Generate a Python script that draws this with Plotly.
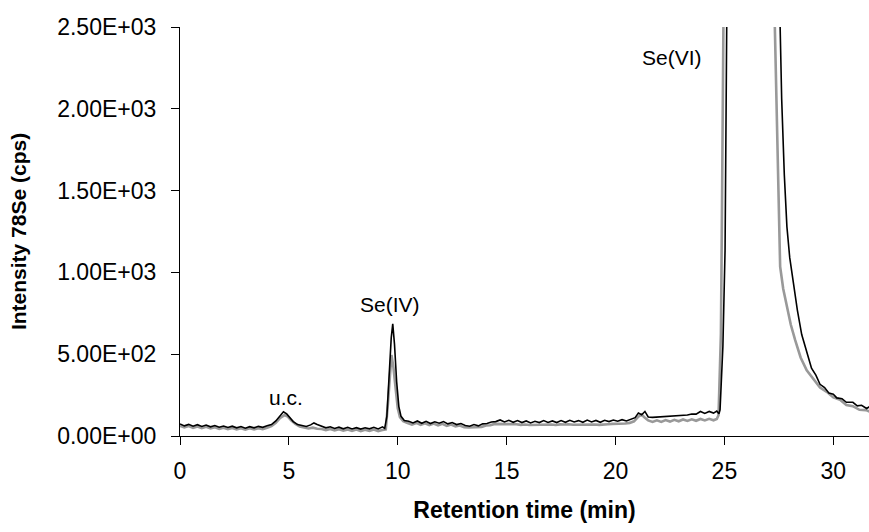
import plotly.graph_objects as go

# Black trace (sample 1)
t_black = [0.0, 0.2, 0.4, 0.6, 0.8, 1.0, 1.2, 1.4, 1.6, 1.8, 2.0, 2.2, 2.4, 2.6, 2.8, 3.0, 3.2, 3.4, 3.6, 3.8,
           4.0, 4.2, 4.4, 4.6, 4.75, 4.9, 5.05, 5.2, 5.4, 5.6, 5.8, 6.0, 6.15, 6.3, 6.5, 6.7, 6.9, 7.1, 7.3, 7.5,
           7.7, 7.9, 8.1, 8.3, 8.5, 8.7, 8.9, 9.1, 9.3, 9.4, 9.5, 9.6, 9.7, 9.77, 9.85, 9.95, 10.05, 10.15, 10.3,
           10.5, 10.7, 10.9, 11.1, 11.3, 11.5, 11.7, 11.9, 12.1, 12.3, 12.5, 12.7, 12.9, 13.1, 13.3, 13.5, 13.7,
           13.9, 14.1, 14.3, 14.5, 14.7, 14.9, 15.1, 15.3, 15.5, 15.7, 15.9, 16.1, 16.3, 16.5, 16.7, 16.9, 17.1,
           17.3, 17.5, 17.7, 17.9, 18.1, 18.3, 18.5, 18.7, 18.9, 19.1, 19.3, 19.5, 19.7, 19.9, 20.1, 20.3, 20.5,
           20.7, 20.9, 21.05, 21.2, 21.35, 21.5, 21.7, 21.9, 22.1, 22.3, 22.5, 22.7, 22.9, 23.1, 23.3, 23.5, 23.7,
           23.9, 24.1, 24.3, 24.5, 24.65, 24.75, 24.8, 24.93, 25.03, 25.08, 25.11, 25.3, 26.2, 27.0, 27.5, 27.56,
           27.63, 27.75, 27.87, 28.0, 28.17, 28.35, 28.55, 28.78, 29.0, 29.2, 29.39, 29.6, 29.8, 30.0, 30.16,
           30.4, 30.6, 30.9, 31.1, 31.3, 31.53, 31.7]
v_black = [74, 62, 71, 60, 69, 58, 67, 56, 64, 54, 61, 52, 60, 50, 58, 48, 57, 50, 59, 53,
           63, 70, 92, 125, 148, 135, 112, 88, 70, 62, 58, 68, 80, 70, 58, 50, 56, 46, 54, 44,
           53, 43, 51, 42, 50, 44, 53, 43, 56, 47, 120, 380, 600, 685, 560, 330, 180, 120, 95,
           90, 80, 92, 78, 90, 76, 87, 78, 88, 74, 82, 70, 76, 64, 60, 70, 62,
           74, 76, 86, 88, 98, 86, 96, 84, 94, 82, 92, 80, 90, 82, 94, 83, 92,
           82, 94, 84, 96, 86, 94, 84, 97, 86, 95, 84, 96, 88, 98, 90, 100, 92,
           104, 112, 140, 130, 150, 116, 114, 116, 116, 120, 120, 124, 122, 128, 128, 134, 134,
           150, 138, 150, 140, 152, 136, 160, 545, 1136, 2075, 2600, 6000, 11000, 5000, 2700, 2497,
           2060, 1600, 1280, 1090, 934, 770, 620, 512, 415, 372, 316, 296, 262, 256, 233,
           228, 206, 206, 184, 188, 168, 182]

# Grey trace (sample 2)
t_grey = [0.0, 0.2, 0.4, 0.6, 0.8, 1.0, 1.2, 1.4, 1.6, 1.8, 2.0, 2.2, 2.4, 2.6, 2.8, 3.0, 3.2, 3.4, 3.6, 3.8,
          4.0, 4.2, 4.4, 4.6, 4.8, 4.95, 5.1, 5.3, 5.5, 5.7, 5.9, 6.1, 6.3, 6.5, 6.7, 6.9, 7.1, 7.3, 7.5, 7.7,
          7.9, 8.1, 8.3, 8.5, 8.7, 8.9, 9.1, 9.3, 9.45, 9.55, 9.65, 9.71, 9.8, 9.9, 10.0, 10.1, 10.25, 10.45,
          10.65, 10.85, 11.05, 11.25, 11.45, 11.65, 11.85, 12.05, 12.25, 12.45, 12.65, 12.85, 13.05, 13.25,
          13.45, 13.65, 13.85, 14.05, 14.25, 14.45, 14.65, 14.85, 15.05, 15.25, 15.45, 15.65, 15.85, 16.05,
          16.25, 16.45, 16.65, 16.85, 17.05, 17.25, 17.45, 17.65, 17.85, 18.05, 18.25, 18.45, 18.65, 18.85,
          19.05, 19.25, 19.45, 19.65, 19.85, 20.05, 20.25, 20.45, 20.65, 20.85, 21.05, 21.2, 21.35, 21.5, 21.7,
          21.9, 22.1, 22.3, 22.5, 22.7, 22.9, 23.1, 23.3, 23.5, 23.7, 23.9, 24.1, 24.3, 24.5, 24.65, 24.73,
          24.84, 24.88, 24.91, 24.96, 25.2, 26.1, 26.9, 27.3, 27.33, 27.41, 27.48, 27.56, 27.7, 27.87, 28.05,
          28.25, 28.5, 28.78, 29.1, 29.39, 29.7, 30.0, 30.31, 30.6, 30.9, 31.2, 31.5, 31.7]
v_grey = [62, 52, 61, 50, 58, 48, 56, 46, 54, 44, 51, 42, 49, 40, 48, 39, 47, 40, 48, 42,
          50, 60, 80, 110, 128, 118, 96, 74, 58, 50, 46, 51, 44, 43, 36, 43, 34, 41, 32, 40,
          31, 39, 30, 38, 31, 39, 30, 37, 40, 200, 420, 495, 420, 280, 170, 115, 90, 80,
          70, 80, 68, 78, 66, 76, 65, 74, 62, 70, 58, 64, 53, 52,
          54, 54, 56, 64, 66, 74, 74, 72, 73, 70, 72, 68, 70, 67,
          68, 68, 71, 69, 70, 67, 71, 70, 72, 69, 70, 68, 72, 70,
          70, 68, 72, 72, 74, 74, 76, 76, 80, 90, 118, 130, 112, 95, 86,
          96, 86, 97, 88, 99, 90, 101, 92, 102, 93, 104, 95, 105, 96, 104, 127,
          627, 1239, 1990, 2600, 6000, 10000, 5000, 2700, 2497, 2000, 1500, 1035, 900, 790, 680,
          586, 480, 402, 350, 296, 270, 236, 222, 190, 182, 160, 158, 148]

y_tickvals = [0, 500, 1000, 1500, 2000, 2500]
y_ticktext = ["0.00E+00", "5.00E+02", "1.00E+03", "1.50E+03", "2.00E+03", "2.50E+03"]
x_tickvals = [0, 5, 10, 15, 20, 25, 30]

peak_labels = ["u.c.", "Se(IV)", "Se(VI)"]
peak_label_t = [4.89, 9.66, 22.6]
peak_label_v = [237, 806, 2312]

FONT = "Liberation Sans, Arial, sans-serif"

fig = go.Figure()
fig.add_trace(go.Scatter(x=t_grey, y=v_grey, mode="lines",
                         line=dict(color="#999999", width=2.6), showlegend=False))
fig.add_trace(go.Scatter(x=t_black, y=v_black, mode="lines",
                         line=dict(color="#000000", width=1.6), showlegend=False))

for txt, tx, ty in zip(peak_labels, peak_label_t, peak_label_v):
    fig.add_annotation(x=tx, y=ty, text=txt, showarrow=False,
                       font=dict(family=FONT, size=21, color="#000000"))

fig.update_layout(
    width=869, height=532,
    margin=dict(l=180, r=0, t=27, b=96),
    paper_bgcolor="white", plot_bgcolor="white",
    font=dict(family=FONT, size=23, color="#000000"),
    xaxis=dict(range=[0, 31.64], tickvals=x_tickvals, ticks="outside", ticklen=8,
               tickcolor="#000", tickwidth=1, showline=True, linecolor="#000", linewidth=1.2,
               showgrid=False, zeroline=False, ticklabelstandoff=6,
               tickfont=dict(size=23),
               title=dict(text="<b>Retention time (min)</b>", font=dict(size=23), standoff=19)),
    yaxis=dict(range=[0, 2500], tickvals=y_tickvals, ticktext=y_ticktext, ticks="outside",
               ticklen=8, tickcolor="#000", tickwidth=1, showline=True, linecolor="#000",
               linewidth=1.2, showgrid=False, zeroline=False, ticklabelstandoff=10,
               tickfont=dict(size=23),
               title=dict(text="<b>Intensity 78Se (cps)</b>", font=dict(size=21), standoff=24)),
)

fig.write_html("out.html")
